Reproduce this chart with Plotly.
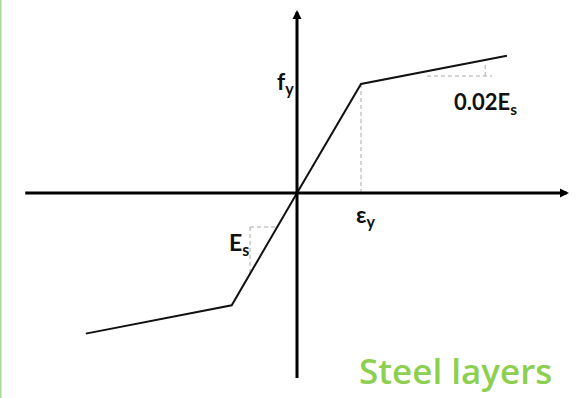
import plotly.graph_objects as go

# ---- data (normalised: strain in units of eps_y, stress in units of f_y) ----
strain = [-3.30, -1.02, 0.0, 1.0, 3.28]
stress = [-1.29, -1.03, 0.0, 1.0, 1.26]

x_axis_extent = [-4.27, 4.25]
y_axis_extent = [-1.71, 1.68]

yield_guide_x = [1.0, 1.0]
yield_guide_y = [1.0, 0.0]

hard_tri_x = [2.03, 3.05, None, 2.94, 2.94]
hard_tri_y = [1.073, 1.073, None, 1.073, 1.20]

elas_tri_x = [-0.734, -0.344, None, -0.734, -0.734]
elas_tri_y = [-0.312, -0.312, None, -0.312, -0.752]

labels = {
    "fy": "f<sub>y</sub>",
    "ey": "ε<sub>y</sub>",
    "es": "E<sub>s</sub>",
    "hard": "0.02E<sub>s</sub>",
    "title": "Steel layers",
}

W, H = 583, 398
ox, oy = 297, 193          # pixel of origin
sx, sy = 64.0, 109.0       # pixels per unit

fig = go.Figure()

guide = dict(color="#a9a9a9", width=1, dash="4px,3px")
fig.add_trace(go.Scatter(x=yield_guide_x, y=yield_guide_y, mode="lines", line=guide, hoverinfo="skip"))
fig.add_trace(go.Scatter(x=hard_tri_x, y=hard_tri_y, mode="lines", line=guide, hoverinfo="skip", connectgaps=False))
fig.add_trace(go.Scatter(x=elas_tri_x, y=elas_tri_y, mode="lines", line=guide, hoverinfo="skip", connectgaps=False))

fig.add_trace(go.Scatter(x=strain, y=stress, mode="lines",
                         line=dict(color="#111111", width=2), hoverinfo="skip"))

# axes with arrows
fig.add_annotation(x=x_axis_extent[1], y=0, ax=x_axis_extent[0], ay=0,
                   xref="x", yref="y", axref="x", ayref="y", text="",
                   showarrow=True, arrowhead=2, arrowsize=0.6, arrowwidth=3, arrowcolor="#000")
fig.add_annotation(x=0, y=y_axis_extent[1], ax=0, ay=y_axis_extent[0],
                   xref="x", yref="y", axref="x", ayref="y", text="",
                   showarrow=True, arrowhead=2, arrowsize=0.6, arrowwidth=3, arrowcolor="#000")

lab_font = dict(family="Lato", size=23, color="#111111")
fig.add_annotation(x=0, y=stress[3], text="<b>" + labels["fy"] + "</b>", showarrow=False,
                   xanchor="right", yanchor="middle", xshift=-1, yshift=2, font=lab_font)
fig.add_annotation(x=strain[3], y=0, text="<b>" + labels["ey"] + "</b>", showarrow=False,
                   xanchor="center", yanchor="top", xshift=5, yshift=-5, font=lab_font)
fig.add_annotation(x=elas_tri_x[0], y=elas_tri_y[0], text="<b>" + labels["es"] + "</b>", showarrow=False,
                   xanchor="right", yanchor="top", xshift=1, yshift=1, font=lab_font)
fig.add_annotation(x=hard_tri_x[3], y=hard_tri_y[0], text="<b>" + labels["hard"] + "</b>", showarrow=False,
                   xanchor="center", yanchor="top", xshift=0, yshift=-10,
                   font=dict(family="Lato", size=22, color="#111111"))

fig.add_annotation(x=357 / W, y=1 - 370 / H, xref="paper", yref="paper",
                   text=labels["title"], showarrow=False,
                   xanchor="left", yanchor="middle",
                   font=dict(family="Open Sans", size=35, weight=600, color="#8dcf50"))

fig.add_shape(type="line", xref="paper", yref="paper", x0=0.001, x1=0.001, y0=0, y1=1,
              line=dict(color="#a8de9c", width=2))

fig.update_layout(
    width=W, height=H, autosize=False,
    margin=dict(l=0, r=0, t=0, b=0),
    paper_bgcolor="white", plot_bgcolor="white",
    showlegend=False,
    xaxis=dict(range=[(0 - ox) / sx, (W - ox) / sx], visible=False, fixedrange=True),
    yaxis=dict(range=[(oy - H) / sy, oy / sy], visible=False, fixedrange=True),
)

fig.write_html("out.html", config={"displayModeBar": False},
               post_script="document.body.style.margin='0';document.body.style.overflow='hidden';")
